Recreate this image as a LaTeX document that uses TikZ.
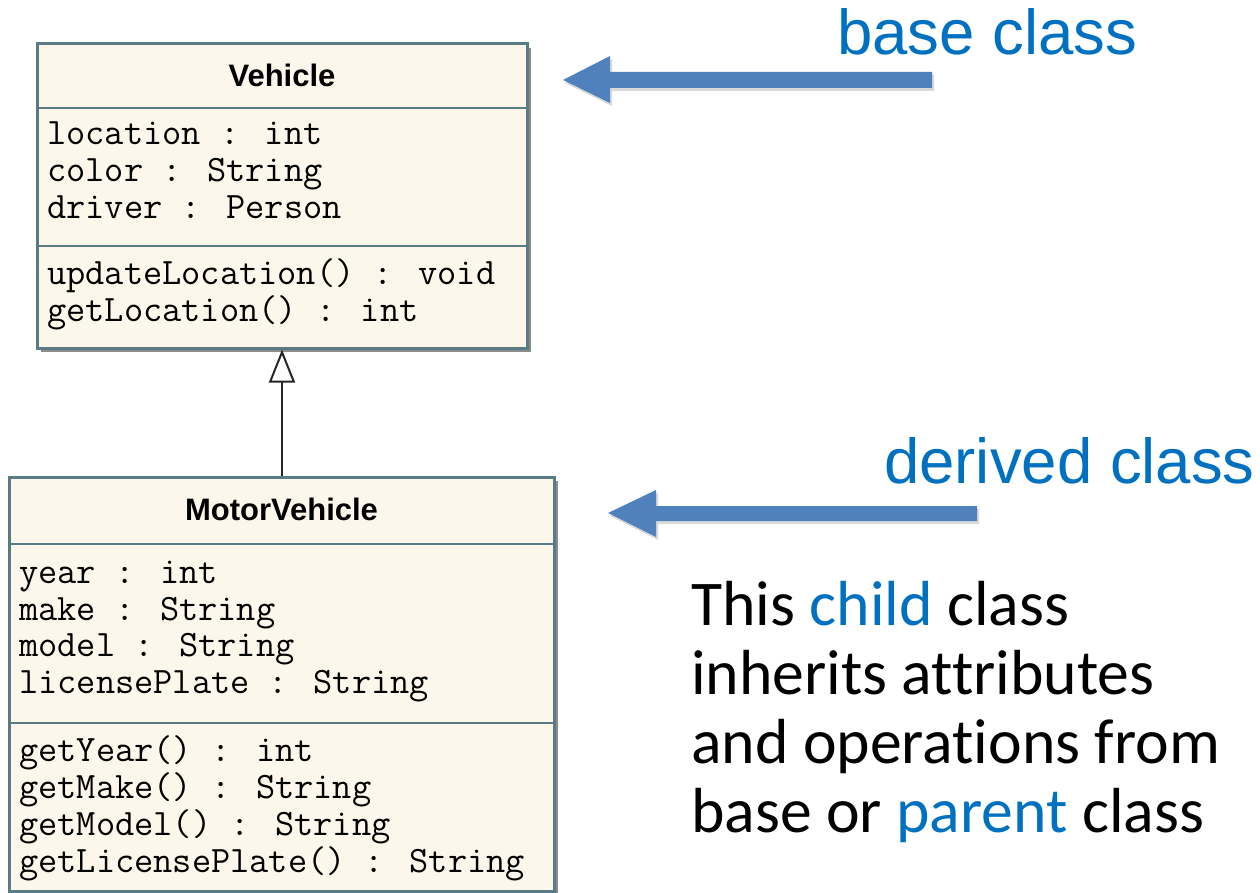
\documentclass[tikz,border=0pt]{standalone}
\usepackage{fontspec}
\setmainfont{Carlito}[Ligatures={NoCommon}]
\newfontfamily\helv{Liberation Sans}
\usetikzlibrary{arrows.meta,shadows}
\definecolor{umlfill}{HTML}{FDF6EA}
\definecolor{umlline}{HTML}{5A7A86}
\definecolor{umlshadow}{HTML}{8C8C8C}
\definecolor{arrowblue}{HTML}{4F81BD}
\definecolor{textblue}{HTML}{0070C0}
\begin{document}
\begin{tikzpicture}[x=1pt,y=-1pt,
  classbox/.style={draw=umlline, fill=umlfill, line width=3pt, inner sep=0pt,
    drop shadow={shadow xshift=4pt, shadow yshift=-4pt, fill=umlshadow, opacity=1}},
  compsep/.style={draw=umlline, line width=2.5pt},
  member/.style={anchor=base west, inner sep=0pt, font=\ttfamily\fontsize{37.3}{37}\selectfont},
  classname/.style={anchor=base, inner sep=0pt, font=\helv\bfseries\fontsize{31}{36}\selectfont},
  bluelabel/.style={anchor=base west, inner sep=0pt, text=textblue, font=\helv\fontsize{63.5}{70}\selectfont},
  paraline/.style={anchor=base west, inner sep=0pt, font=\fontsize{63.7}{69}\selectfont},
  bluearrow/.style={fill=arrowblue},
  arrowshade/.style={fill=black, opacity=0.15},
  inherit/.style={line width=2pt, draw=black!85, -{Triangle[open, length=33pt, width=26pt, line width=2pt]}}
]
\useasboundingbox (0,0) rectangle (1260,893);

% Vehicle class
\node[classbox, minimum width=490pt, minimum height=304pt] (veh) at (282,196) {};
\draw[compsep] (veh.west |- 0,108) -- (veh.east |- 0,108);
\draw[compsep] (veh.west |- 0,246) -- (veh.east |- 0,246);
\node[classname] (vname) at (282,87) {Vehicle};
\node[member] (va1) at (47,145) {location : int};
\node[member] (va2) at (47,182) {color : String};
\node[member] (va3) at (47,219) {driver : Person};
\node[member] (vm1) at (47,284) {updateLocation() : void};
\node[member] (vm2) at (47,321) {getLocation() : int};

% MotorVehicle class
\node[classbox, minimum width=545pt, minimum height=414pt] (mv) at (281.5,684) {};
\draw[compsep] (mv.west |- 0,544) -- (mv.east |- 0,544);
\draw[compsep] (mv.west |- 0,723) -- (mv.east |- 0,723);
\node[classname] (mname) at (281.5,520.5) {MotorVehicle};
\node[member] (ma1) at (19,583) {year : int};
\node[member] (ma2) at (19,620) {make : String};
\node[member] (ma3) at (19,656) {model : String};
\node[member] (ma4) at (19,693) {licensePlate : String};
\node[member] (mm1) at (19,761.5) {getYear() : int};
\node[member] (mm2) at (19,798.5) {getMake() : String};
\node[member] (mm3) at (19,835.5) {getModel() : String};
\node[member] (mm4) at (19,872) {getLicensePlate() : String};

% inheritance
\draw[inherit] (veh.south |- mv.north) -- (veh.south);

% blue arrows
\coordinate (bt) at (563,80);
\coordinate (dt) at (608,513);
\fill[arrowshade] ([shift={(2,3)}]bt) -- ++(47,-24) -- ++(0,16) -- ++(322,0) -- ++(0,16) -- ++(-322,0) -- ++(0,15) -- cycle;
\fill[bluearrow] (bt) -- ++(47,-24) -- ++(0,16) -- ++(322,0) -- ++(0,16) -- ++(-322,0) -- ++(0,15) -- cycle;
\fill[arrowshade] ([shift={(2,3)}]dt) -- ++(48,-23) -- ++(0,16) -- ++(321,0) -- ++(0,15) -- ++(-321,0) -- ++(0,16) -- cycle;
\fill[bluearrow] (dt) -- ++(48,-23) -- ++(0,16) -- ++(321,0) -- ++(0,15) -- ++(-321,0) -- ++(0,16) -- cycle;

% labels
\node[bluelabel] (base) at (837,55) {base class};
\node[bluelabel] (derived) at (884,483) {derived class};

\node[paraline] (p1) at (691,625) {This \textcolor{textblue}{child} class};
\node[paraline] (p2) at (691,694) {inherits attributes};
\node[paraline] (p3) at (691,763) {and operations from};
\node[paraline] (p4) at (691,832) {base or \textcolor{textblue}{parent} class};
\end{tikzpicture}
\end{document}
